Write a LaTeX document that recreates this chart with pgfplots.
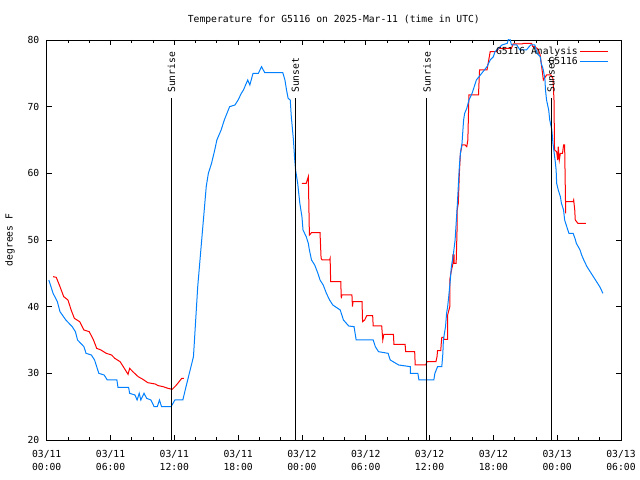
\documentclass[border=0pt]{standalone}
\usepackage{pgfplots}
\pgfplotsset{compat=1.18}
\usepackage{fontspec}
\setmainfont{DejaVu Sans Mono}
\newcommand\gf{\fontsize{9.7bp}{13bp}\selectfont}
\definecolor{gblue}{RGB}{0,128,255}
\definecolor{gred}{RGB}{255,0,0}
\begin{document}
\begin{tikzpicture}
\begin{axis}[
  scale only axis,
  width=574.3bp, height=400bp,
  xmin=0, xmax=54, ymin=20, ymax=80,
  xtick={0,6,...,54},
  xticklabels={03/11\\00:00,03/11\\06:00,03/11\\12:00,03/11\\18:00,03/12\\00:00,03/12\\06:00,03/12\\12:00,03/12\\18:00,03/13\\00:00,03/13\\06:00},
  minor x tick num=2,
  ytick={20,30,...,80},
  major tick length=5bp, minor tick length=3bp,
  tick style={black, line width=0.8bp},
  axis line style={line width=0.8bp},
  /pgf/number format/assume math mode=true,
  tick label style={font=\gf},
  xticklabel style={align=center, yshift=-7bp},
  yticklabel style={xshift=-4bp},
  title={Temperature for G5116 on 2025-Mar-11 (time in UTC)},
  title style={font=\gf, at={(0.5,1)}, anchor=base, yshift=12bp},
  ylabel={degrees F},
  ylabel style={font=\gf, at={(axis description cs:-0.064,0.5)}, anchor=center},
  unbounded coords=jump,
  legend cell align=right,
  legend plot pos=right,
  legend image code/.code={\draw[#1] (0bp,0bp) -- (28bp,0bp);},
  legend style={font=\gf, draw=none, fill=none, at={(1,1)}, anchor=north east, xshift=-9bp, yshift=-3bp, row sep=-3bp, nodes={inner sep=2bp}},
]
\addplot[gred, line width=1bp] coordinates {
(0.6,44.5) (0.9,44.4) (1.25,43) (1.6,41.5) (2.0,41) (2.3,39.5) (2.6,38.25) (3.1,37.75)
(3.5,36.5) (4.0,36.25) (4.4,35) (4.7,33.75) (5.1,33.5) (5.6,33) (6.1,32.75) (6.4,32.25)
(6.9,31.75) (7.3,30.75) (7.65,29.85) (7.8,30.75) (8.1,30.25) (8.6,29.5) (9.05,29.1)
(9.5,28.6) (10.2,28.4) (10.5,28.15) (10.95,28) (11.4,27.75) (11.8,27.6) (12.2,28.25)
(12.7,29.25) (12.9,29.25) (13.0,nan)
(24.0,58.5) (24.4,58.5) (24.5,59) (24.6,59.5) (24.65,55.25) (24.7,50.75) (24.9,51.1)
(25.7,51.1) (25.8,47.25) (25.9,47) (26.6,47) (26.65,47.25) (26.7,43.75) (27.65,43.75)
(27.7,41.25) (27.75,41.75) (28.7,41.75) (28.75,40) (28.8,40.75) (29.65,40.75) (29.7,37.75)
(29.9,38) (30.1,38.65) (30.65,38.65) (30.7,37.1) (31.5,37.1) (31.6,35) (31.7,35.85)
(32.6,35.85) (32.65,34.35) (33.7,34.35) (33.75,33.25) (34.6,33.25) (34.65,31.25)
(35.65,31.25) (35.75,31.75) (36.6,31.75) (36.7,32.5) (36.75,33.4) (37.05,33.4) (37.1,34.5)
(37.15,35.4) (37.3,35.4) (37.35,35.1) (37.7,35.1) (37.7,38.75) (37.9,40) (37.9,44)
(38.0,45) (38.2,46.5) (38.2,47.75) (38.3,47.75) (38.3,46.5) (38.5,46.5) (38.6,52.5)
(38.6,54.5) (38.7,55.5) (38.8,60) (38.9,63) (39.05,64.25) (39.35,64.25) (39.5,64)
(39.6,65) (39.7,71.75) (40.6,71.75) (40.7,75.5) (41.4,75.5) (41.7,78.25) (42.3,78.25)
(42.5,78.75) (43.7,78.75) (43.85,79.4) (44.7,79.4) (44.8,79.5) (45.6,79.5) (45.7,79)
(45.9,79) (46.1,78.75) (46.25,78.5) (46.4,77.75) (46.7,74) (47.0,74.75) (47.4,74.75)
(47.6,74.25) (47.7,71) (47.75,63.5) (47.95,63.25) (48.05,62) (48.1,64) (48.2,62)
(48.3,63) (48.5,63) (48.6,64.25) (48.7,64.25) (48.75,59) (48.8,54) (48.8,55.75)
(49.5,55.75) (49.55,56) (49.65,54.5) (49.7,53) (49.95,52.5) (50.7,52.5)
};
\addlegendentry{G5116 Analysis}
\addplot[gblue, line width=1bp] coordinates {
(0.2,44) (0.6,42) (1.0,40.75) (1.25,39.25) (1.8,38) (2.4,37) (2.7,36.25) (2.9,35)
(3.5,34) (3.7,33) (4.2,32.75) (4.5,32) (4.9,30) (5.4,29.75) (5.7,29) (6.6,29) (6.7,27.9)
(7.7,27.9) (7.8,27) (8.3,26.75) (8.5,26) (8.7,27) (8.85,26) (9.15,27) (9.4,26.25)
(9.8,26) (10.1,25) (10.4,25) (10.6,26) (10.8,25) (11.7,25) (12.05,26) (12.8,26)
(13.1,28) (13.8,32.5) (14.2,43) (15.0,58) (15.2,60) (15.5,61.5) (15.8,63.5) (16.0,65)
(16.4,66.5) (16.7,68) (17.2,70) (17.7,70.25) (18.0,71) (18.3,72) (18.5,72.5) (18.9,74)
(19.1,73.25) (19.4,75) (19.9,75) (20.2,76) (20.5,75.1) (22.2,75.1) (22.4,74) (22.55,72.5)
(22.7,71.25) (22.9,71) (23.0,68.5) (23.2,65) (23.3,62.5) (23.4,60.5) (23.6,58.5)
(23.8,55.5) (24.0,53.5) (24.1,51.5) (24.4,50.5) (24.6,49.5) (24.7,48.5) (24.9,47)
(25.2,46.25) (25.5,45) (25.7,44) (26.0,43.25) (26.3,42) (26.6,41) (26.9,40.25)
(27.6,39.5) (27.9,38) (28.4,37.1) (28.9,37) (29.1,35) (30.7,35) (30.9,34) (31.2,33.25)
(32.1,33) (32.3,32) (33.1,31.25) (34.2,31) (34.2,30) (34.9,30) (35.0,29) (36.4,29)
(36.5,30) (36.75,31) (37.15,31) (37.25,33) (37.3,35) (37.5,37) (37.6,39) (37.7,40)
(37.8,41.5) (37.95,44) (38.05,46) (38.25,48) (38.4,50) (38.5,52.5) (38.6,55) (38.7,58)
(38.8,61) (38.9,63) (39.05,64.5) (39.2,68) (39.3,69) (39.5,69.75) (39.7,71) (40.0,72)
(40.2,73) (40.4,74) (40.9,75) (41.4,76) (41.7,77) (42.0,77.5) (42.15,78.25) (42.5,78.75)
(42.8,79.25) (43.3,79.5) (43.5,80.5) (43.7,79.25) (44.2,79.25) (44.5,78.5) (45.1,78.5)
(45.5,79.25) (45.9,79.25) (46.1,78) (46.4,77.5) (46.5,76.5) (46.7,75.5) (46.85,74)
(46.9,72.5) (47.0,71) (47.2,69.5) (47.3,68) (47.5,66.5) (47.6,64.5) (47.8,62) (47.9,60.5)
(47.95,58.5) (48.1,57.5) (48.3,56.5) (48.4,55.5) (48.6,54.5) (48.7,53) (48.9,52)
(49.1,51) (49.5,51) (49.7,50.1) (49.8,49.5) (50.15,48.5) (50.3,47.75) (50.5,47)
(50.8,46) (51.1,45.25) (51.4,44.5) (51.7,43.75) (52.0,43) (52.3,42)
};
\addlegendentry{G5116}
\addplot[black, line width=1bp, forget plot] coordinates {(11.74,20) (11.74,71.3)};
\addplot[black, line width=1bp, forget plot] coordinates {(23.39,20) (23.39,71.3)};
\addplot[black, line width=1bp, forget plot] coordinates {(35.75,20) (35.75,71.3)};
\addplot[black, line width=1bp, forget plot] coordinates {(47.43,20) (47.43,71.3)};
\node[rotate=90, anchor=west, font=\gf, inner sep=1bp] at (axis cs:11.74,71.9) {Sunrise};
\node[rotate=90, anchor=west, font=\gf, inner sep=1bp] at (axis cs:23.39,71.9) {Sunset};
\node[rotate=90, anchor=west, font=\gf, inner sep=1bp] at (axis cs:35.75,71.9) {Sunrise};
\node[rotate=90, anchor=west, font=\gf, inner sep=1bp] at (axis cs:47.43,71.9) {Sunset};
\end{axis}
\path (current axis.south west) ++(-46.7bp,-40bp) rectangle ++(640bp,480bp);
\end{tikzpicture}
\end{document}
